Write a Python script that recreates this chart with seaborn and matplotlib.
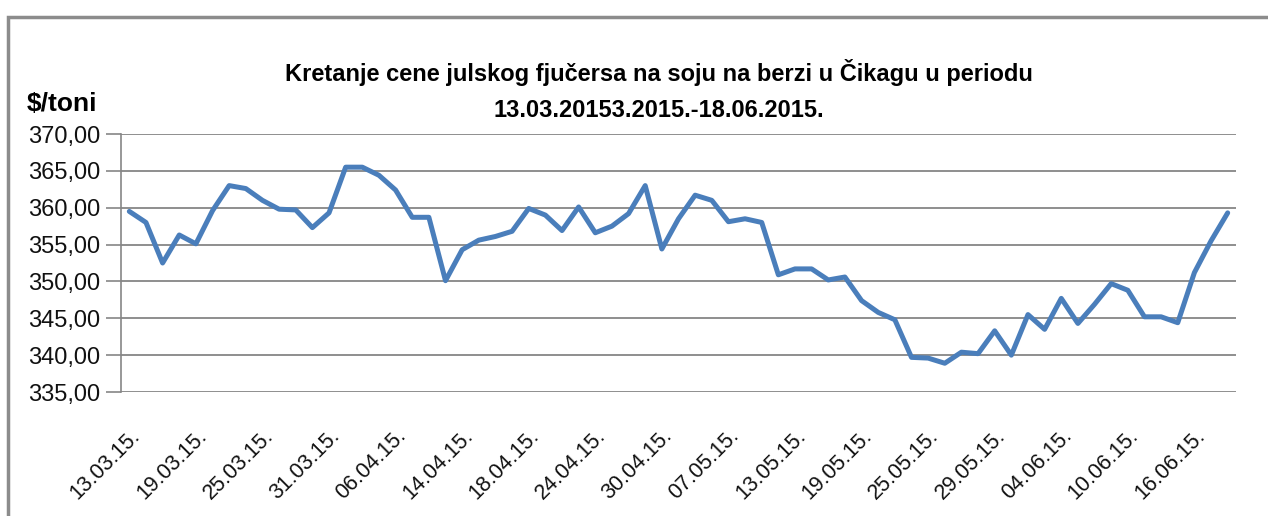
import matplotlib
matplotlib.use("Agg")
import matplotlib.pyplot as plt
from matplotlib.patches import Rectangle
import seaborn as sns
import pandas as pd

# ---- data ----
prices = [359.5, 358.0, 352.5, 356.3, 355.1, 359.6, 363.0, 362.6, 361.0, 359.8,
          359.7, 357.3, 359.3, 365.5, 365.5, 364.4, 362.4, 358.7, 358.7, 350.1,
          354.3, 355.6, 356.1, 356.8, 359.9, 359.0, 356.9, 360.1, 356.6, 357.5,
          359.2, 363.0, 354.4, 358.5, 361.7, 361.0, 358.1, 358.5, 358.0, 350.9,
          351.7, 351.7, 350.2, 350.6, 347.4, 345.8, 344.8, 339.7, 339.6, 338.9,
          340.4, 340.2, 343.3, 340.0, 345.5, 343.5, 347.7, 344.3, 346.9, 349.7,
          348.8, 345.2, 345.2, 344.4, 351.2, 355.5, 359.3]
tick_labels = ["13.03.15.", "19.03.15.", "25.03.15.", "31.03.15.", "06.04.15.",
               "14.04.15.", "18.04.15.", "24.04.15.", "30.04.15.", "07.05.15.",
               "13.05.15.", "19.05.15.", "25.05.15.", "29.05.15.", "04.06.15.",
               "10.06.15.", "16.06.15."]
label_step = 4
y_ticks = [335, 340, 345, 350, 355, 360, 365, 370]
title_lines = ["Kretanje cene julskog fjučersa na soju na berzi u Čikagu u periodu",
               "13.03.20153.2015.-18.06.2015."]
y_unit = "$/toni"

df = pd.DataFrame({"idx": list(range(len(prices))), "cena": prices})

sns.set_theme(style="white")
plt.rcParams["font.family"] = ["Liberation Sans", "DejaVu Sans"]
plt.rcParams["text.color"] = "black"

W, H = 1268, 516
fig = plt.figure(figsize=(W / 100, H / 100), dpi=100)
ax = fig.add_axes([121 / W, 1 - 392 / H, (1236 - 121) / W, (392 - 134) / H])

sns.lineplot(data=df, x="idx", y="cena", ax=ax, color="#4A7EBB", linewidth=3.6)

ax.set_xlim(-0.5, len(prices) - 0.5)
ax.set_ylim(335, 370)
ax.set_yticks(y_ticks)
ax.set_yticklabels([f"{v:.2f}".replace(".", ",") for v in y_ticks],
                   fontsize=17, color="#111111")
ax.set_xticks(list(range(0, len(prices), label_step))[:len(tick_labels)])
ax.set_xticklabels(tick_labels, rotation=45, ha="right", rotation_mode="anchor",
                   fontsize=15.5, color="#111111")
ax.tick_params(axis="x", length=0, pad=24)
ax.tick_params(axis="y", length=11, width=1.2, color="#868686", pad=4, left=True)
ax.grid(axis="y", color="#868686", linewidth=1.3)
ax.grid(axis="x", visible=False)
ax.set_xlabel("")
ax.set_ylabel("")
for side in ["top", "right", "bottom"]:
    ax.spines[side].set_visible(False)
ax.spines["left"].set_color("#868686")
ax.spines["left"].set_linewidth(1.2)

fig.text(659 / W, 1 - 72 / H, title_lines[0], ha="center", va="center",
         fontsize=17, fontweight="bold", color="black")
fig.text(659 / W, 1 - 111 / H, title_lines[1], ha="center", va="center",
         fontsize=17, fontweight="bold", color="black")
fig.text(27 / W, 1 - 104 / H, y_unit, ha="left", va="center",
         fontsize=19, fontweight="bold", color="black")

fig.add_artist(Rectangle((8 / W, -0.1), 1.2, (H - 17) / H + 0.1,
                         transform=fig.transFigure, fill=False,
                         edgecolor="#8c8c8c", linewidth=2.5))

fig.savefig("out.png", dpi=100, facecolor="white")
